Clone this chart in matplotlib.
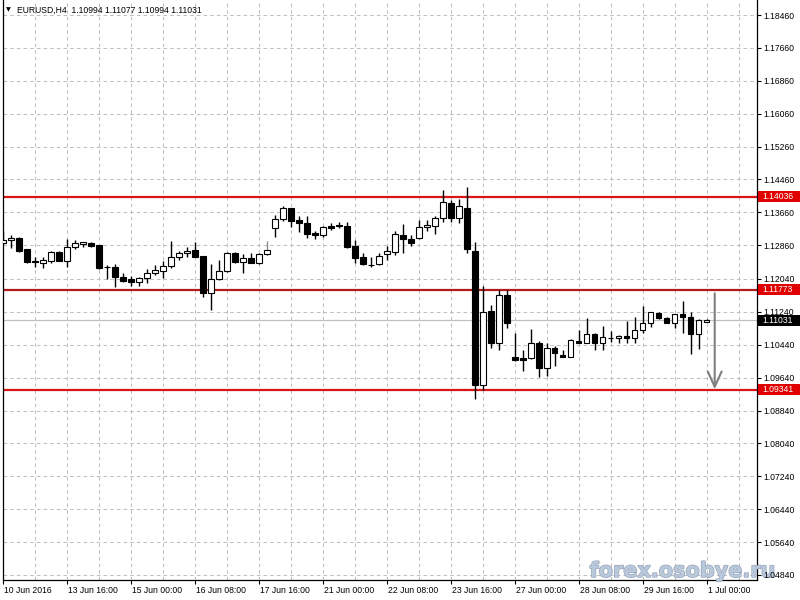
import matplotlib
matplotlib.use('Agg')
import matplotlib.pyplot as plt
import matplotlib.transforms as mtransforms
import matplotlib.patheffects as pe
from matplotlib.patches import Rectangle

plt.rcParams['font.family'] = ['Liberation Sans', 'DejaVu Sans']
plt.rcParams['lines.scale_dashes'] = False

# ---------------- data (EURUSD H4) ----------------
opens = [1.12907, 1.12980, 1.13043, 1.12761, 1.12489, 1.12440, 1.12484, 1.12695, 1.12489, 1.12810,
         1.12883, 1.12926, 1.12866, 1.12340, 1.12323, 1.12095, 1.12039, 1.11973, 1.12056, 1.12177,
         1.12240, 1.12355, 1.12566, 1.12664, 1.12744, 1.12598, 1.11691, 1.12031, 1.12233, 1.12678,
         1.12445, 1.12542, 1.12435, 1.12647, 1.13286, 1.13491, 1.13758, 1.13474, 1.13408, 1.13150,
         1.13101, 1.13328, 1.13352, 1.13328, 1.12841, 1.12566, 1.12384, 1.12396, 1.12647, 1.12703,
         1.13109, 1.13011, 1.13029, 1.13296, 1.13335, 1.13515, 1.13880, 1.13515, 1.13758, 1.12720,
         1.09460, 1.11260, 1.10475, 1.11649, 1.10134, 1.10117, 1.10110, 1.10489, 1.09881, 1.10368,
         1.10190, 1.10149, 1.10531, 1.10489, 1.10701, 1.10489, 1.10596, 1.10596, 1.10652, 1.10596,
         1.10798, 1.10961, 1.11204, 1.11083, 1.10976, 1.11185, 1.11107, 1.10694, 1.10994]
highs = [1.13206, 1.13109, 1.13060, 1.12768, 1.12574, 1.12562, 1.12727, 1.12727, 1.13004, 1.12987,
         1.12939, 1.12946, 1.12878, 1.12379, 1.12396, 1.12177, 1.12112, 1.12095, 1.12275, 1.12379,
         1.12484, 1.12970, 1.12727, 1.12824, 1.12939, 1.12610, 1.12403, 1.12501, 1.12703, 1.12703,
         1.12647, 1.12664, 1.12678, 1.12963, 1.13595, 1.13814, 1.13778, 1.13571, 1.13571, 1.13213,
         1.13328, 1.13408, 1.13432, 1.13432, 1.12987, 1.12664, 1.12566, 1.12678, 1.12841, 1.13213,
         1.13376, 1.13109, 1.13474, 1.13474, 1.13571, 1.14203, 1.13960, 1.13977, 1.14284, 1.12946,
         1.11868, 1.11406, 1.11771, 1.11771, 1.10725, 1.10312, 1.10815, 1.10531, 1.10475, 1.10409,
         1.10312, 1.10572, 1.10798, 1.11083, 1.10718, 1.10896, 1.10781, 1.10677, 1.11024, 1.11122,
         1.11382, 1.11243, 1.11243, 1.11122, 1.11197, 1.11511, 1.11236, 1.11056, 1.11077]
lows = [1.12866, 1.12785, 1.12695, 1.12420, 1.12330, 1.12306, 1.12435, 1.12476, 1.12338, 1.12768,
        1.12824, 1.12824, 1.12275, 1.12039, 1.11851, 1.11973, 1.11876, 1.11868, 1.11949, 1.12136,
        1.12056, 1.12299, 1.12501, 1.12566, 1.12566, 1.11606, 1.11297, 1.12026, 1.12221, 1.12420,
        1.12192, 1.12420, 1.12396, 1.12634, 1.13053, 1.13457, 1.13311, 1.13189, 1.13029, 1.13004,
        1.13053, 1.13230, 1.13272, 1.12785, 1.12420, 1.12384, 1.12338, 1.12389, 1.12501, 1.12622,
        1.12664, 1.12849, 1.13011, 1.13213, 1.13133, 1.13432, 1.13432, 1.13393, 1.12664, 1.09113,
        1.09339, 1.10368, 1.10312, 1.10840, 1.10044, 1.09808, 1.10085, 1.09662, 1.09679, 1.09922,
        1.10134, 1.10134, 1.10475, 1.10475, 1.10312, 1.10312, 1.10514, 1.10475, 1.10489, 1.10489,
        1.10718, 1.10878, 1.11058, 1.10961, 1.10840, 1.10725, 1.10207, 1.10329, 1.10994]
closes = [1.12987, 1.13029, 1.12720, 1.12459, 1.12452, 1.12501, 1.12695, 1.12484, 1.12810, 1.12907,
          1.12931, 1.12849, 1.12313, 1.12336, 1.12095, 1.12002, 1.11973, 1.12056, 1.12177, 1.12258,
          1.12355, 1.12566, 1.12664, 1.12727, 1.12581, 1.11691, 1.12031, 1.12233, 1.12671, 1.12445,
          1.12542, 1.12435, 1.12647, 1.12744, 1.13491, 1.13758, 1.13457, 1.13408, 1.13126, 1.13101,
          1.13296, 1.13286, 1.13316, 1.12824, 1.12557, 1.12396, 1.12379, 1.12605, 1.12720, 1.13133,
          1.13004, 1.12921, 1.13296, 1.13352, 1.13515, 1.13904, 1.13515, 1.13814, 1.12761, 1.09460,
          1.11243, 1.10475, 1.11649, 1.10976, 1.10069, 1.10081, 1.10475, 1.09881, 1.10353, 1.10231,
          1.10149, 1.10555, 1.10489, 1.10701, 1.10489, 1.10621, 1.10594, 1.10652, 1.10596, 1.10798,
          1.10976, 1.11229, 1.11083, 1.10976, 1.11185, 1.11107, 1.10694, 1.11044, 1.11031]

time_labels = ["10 Jun 2016", "13 Jun 16:00", "15 Jun 00:00", "16 Jun 08:00", "17 Jun 16:00",
               "21 Jun 00:00", "22 Jun 08:00", "23 Jun 16:00", "27 Jun 00:00", "28 Jun 08:00",
               "29 Jun 16:00", "1 Jul 00:00"]
label_every = 8

price_ticks = [1.18460, 1.17660, 1.16860, 1.16060, 1.15260, 1.14460, 1.13660, 1.12860, 1.12040,
               1.11240, 1.10440, 1.09640, 1.08840, 1.08040, 1.07240, 1.06440, 1.05640, 1.04840]

levels = [1.14036, 1.11773, 1.09341]
level_colors = ['#d81414', '#b01c1c', '#d81414']
current_price = 1.11031
arrow_from = 1.11691
arrow_to = 1.09357
header = "EURUSD,H4  1.10994 1.11077 1.10994 1.11031"
gray_wick_bar = 33

# ---------------- figure ----------------
W, H = 800, 600
fig = plt.figure(figsize=(8, 6), dpi=100)
ax = fig.add_axes([3 / W, 20 / H, 754 / W, 580 / H])
ax.set_xlim(0.0375, 94.2875)
ax.set_ylim(1.04718, 1.18825)

n = len(opens)
xs = list(range(n))

# grid
grid_kw = dict(color='#c0c0c0', lw=0.75, ls=(0, (2.6, 2.2)), zorder=0)
for t in price_ticks:
    ax.axhline(t, **grid_kw)
for gx in range(0, 95, 4):
    ax.axvline(gx, **grid_kw)

# current price line
ax.axhline(current_price, color='#c0c0c0', lw=0.9, zorder=1)

# horizontal levels
for lv, c in zip(levels, level_colors):
    ax.axhline(lv, color=c, lw=1.6, zorder=2)

# candles
for i in xs:
    o, h, l, c = opens[i], highs[i], lows[i], closes[i]
    top, bot = max(o, c), min(o, c)
    upper_color = '#8a8a8a' if i == gray_wick_bar else 'black'
    ax.vlines(i, top, h, color=upper_color, lw=1.0, zorder=3)
    ax.vlines(i, l, bot, color='black', lw=1.0, zorder=3)
    fc = 'white' if c >= o else 'black'
    ax.bar(i, top - bot, bottom=bot, width=0.68, facecolor=fc, edgecolor='black',
           linewidth=0.8, zorder=4)

# arrow
ax.annotate('', xy=(89, arrow_to), xytext=(89, arrow_from),
            arrowprops=dict(arrowstyle='->,head_length=1.1,head_width=0.5', color='#808080',
                            lw=1.5, shrinkA=0, shrinkB=0), zorder=5)

# axes styling
for s in ['left', 'right', 'bottom']:
    ax.spines[s].set_linewidth(0.9)
    ax.spines[s].set_color('black')
ax.spines['top'].set_visible(False)

ax.yaxis.tick_right()
ax.set_yticks(price_ticks)
ax.set_yticklabels([f"{t:.5f}" for t in price_ticks])
ax.tick_params(axis='y', direction='out', length=3, width=0.8, pad=1.5, labelsize=6.2,
               colors='black')
ax.yaxis.set_zorder(25)

ax.set_xticks(list(range(0, n, label_every)))
ax.set_xticklabels(time_labels, ha='left')
ax.tick_params(axis='x', direction='out', length=3, width=0.8, pad=1.5, labelsize=6.2)
offset = mtransforms.ScaledTranslation(1.5 / 100, 0, fig.dpi_scale_trans)
for lab in ax.get_xticklabels():
    lab.set_transform(lab.get_transform() + offset)

# price boxes on the right axis
blend = mtransforms.blended_transform_factory(ax.transAxes, ax.transData)
box_h = 11 / 4111.6
for lv, c in [(levels[0], '#e00000'), (levels[1], '#e00000'), (levels[2], '#e00000'),
              (current_price, 'black')]:
    ax.add_patch(Rectangle((1.0013, lv - box_h / 2), 0.06, box_h, transform=blend,
                           facecolor=c, edgecolor='none', clip_on=False, zorder=30))
    ax.text(1.0066, lv, f"{lv:.5f}", transform=blend, color='white', fontsize=6.2,
            va='center', ha='left', clip_on=False, zorder=31)

# header
fig.text(8 / W, 1 - 10 / H, "\u25BC", fontsize=4.5, ha='center', va='center',
         family=['DejaVu Sans'])
fig.text(17 / W, 1 - 10 / H, header, fontsize=6.2, ha='left', va='center')

# watermark (drawn under the price-axis labels, over the grid)
ax.text(683 / W, 1 - 571 / H, "forex.osobye.ru", fontsize=15.0, weight='bold',
        family=['DejaVu Sans'], color='#bac8dc', ha='center', va='center', zorder=20,
        transform=fig.transFigure, clip_on=False,
        path_effects=[pe.withStroke(linewidth=1.0, foreground='#98a6bd')])

fig.savefig('out.png', dpi=100)
